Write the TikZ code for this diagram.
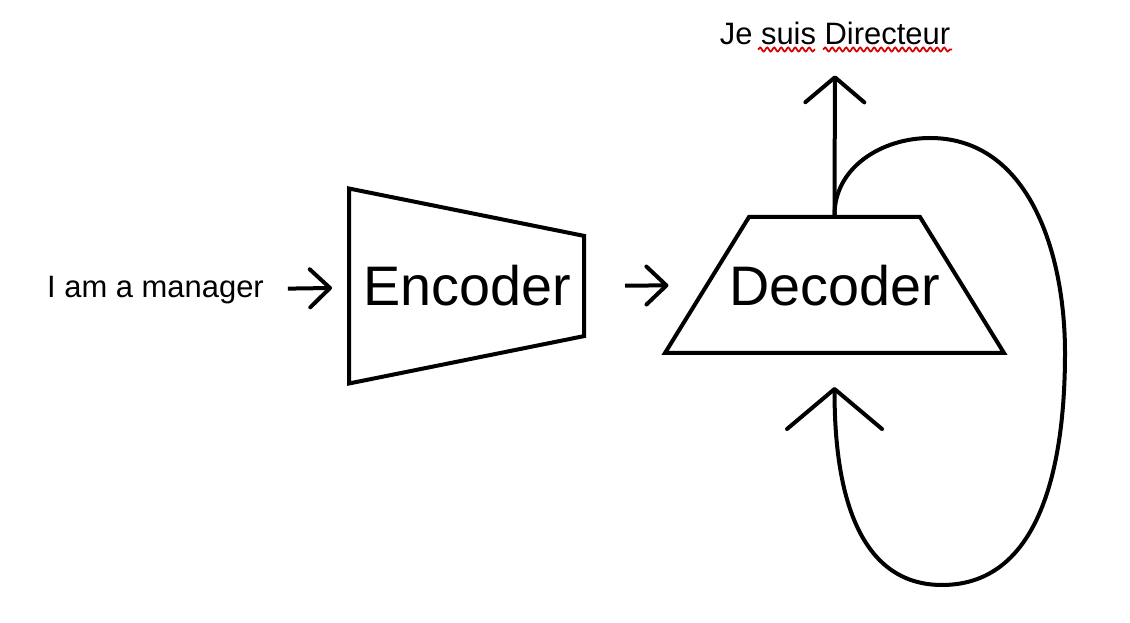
\documentclass[tikz,border=0pt]{standalone}
\usepackage{fontspec}
\setmainfont{Liberation Sans}
\usetikzlibrary{shapes.geometric,arrows.meta,decorations.pathmorphing}

\begin{document}
\begin{tikzpicture}[line width=0.08cm,
            txt/.style={inner sep=0pt,font=\fontsize{17.6}{21}\selectfont},
            big/.style={inner sep=0pt,font=\fontsize{31.7}{38}\selectfont},
            box/.style={trapezium,draw,trapezium stretches body},
            arr/.style={-{Straight Barb[round,length=0.4cm,width=0.76cm]}},
            outarr/.style={-{Straight Barb[round,length=0.5cm,width=1.18cm]}},
            backarr/.style={-{Straight Barb[round,length=0.8cm,width=1.9cm]}},
            spell/.style={draw=red!85!black,line width=0.035cm,decorate,
              decoration={snake,segment length=0.14cm,amplitude=0.04cm}}]
            \useasboundingbox (0,0) rectangle (22.6,12.44);
            \node[txt,anchor=base] (In) at (3.11,6.48) {I am a manager};
            \node[box,rotate=-90,trapezium left angle=78.6,trapezium right angle=78.6,
              inner xsep=0pt,inner ysep=2.35cm,minimum width=3.9cm] (Enc) at (9.33,6.72) {};
            \node[big,anchor=base] (EncT) at (9.35,6.32) {Encoder};
            \node[box,big,trapezium left angle=58.3,trapezium right angle=58.3,
              text height=0.81cm,text depth=0cm,inner ysep=0.955cm,inner xsep=-0.6cm,
              minimum width=6.78cm] (Dec) at (16.69,6.74) {Decoder};
            \node[txt,anchor=base] (Out) at (16.70,11.54) {Je suis Directeur};
            \draw[spell] (15.16,11.45) -- (16.30,11.45);
            \draw[spell] (16.46,11.45) -- (19.04,11.45);
            \draw[arr,shorten <=0.44cm,shorten >=0.3cm] (In) -- (Enc);
            \draw[arr,shorten <=0.78cm,shorten >=0.72cm] (Enc) -- (Dec);
            \draw[outarr,shorten >=0.56cm] (Dec.north) -- (Out.south);
            \draw[backarr,shorten >=0.64cm] (Dec.north) to[out=90,in=180] (18.6,9.68)
              to[out=0,in=90] (21.3,5.38) to[out=-90,in=0] (18.84,0.74)
              to[out=180,in=-90] (Dec.south);
            
          \end{tikzpicture}
\end{document}
